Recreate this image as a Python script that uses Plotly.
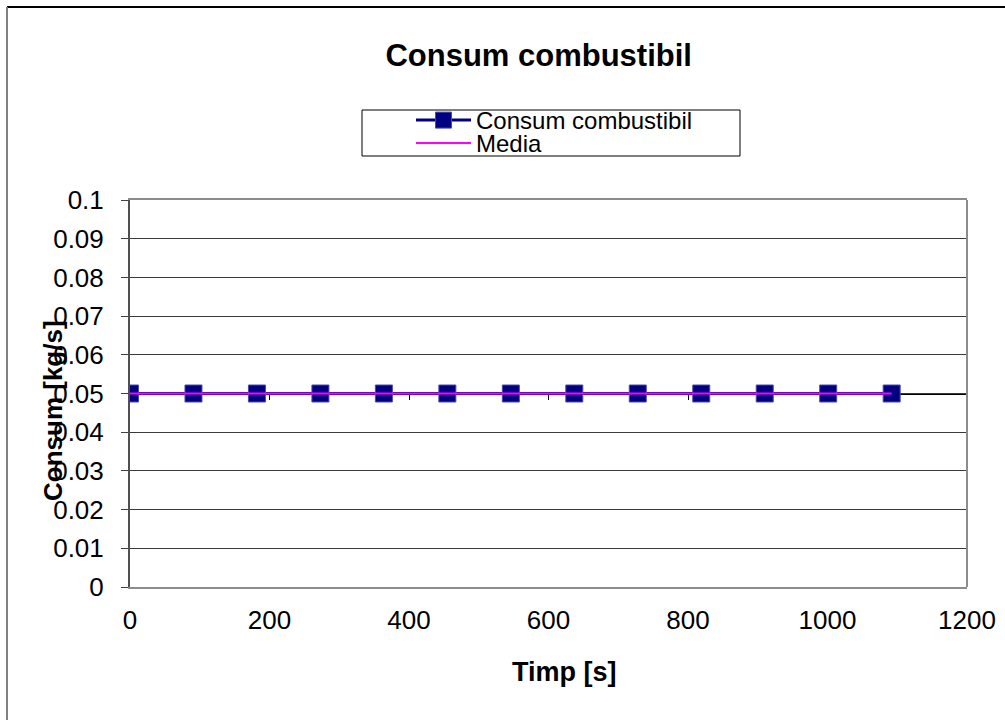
import plotly.graph_objects as go

# Fuel consumption samples over time
timp = [0, 91, 182, 273, 364, 455, 546, 637, 728, 819, 910, 1001, 1092]
consum = [0.05] * 13
media = [0.05] * 13

x_ticks = [0, 200, 400, 600, 800, 1000, 1200]
y_ticks = [0, 0.01, 0.02, 0.03, 0.04, 0.05, 0.06, 0.07, 0.08, 0.09, 0.1]

FONT = "Liberation Sans, Arial, sans-serif"

fig = go.Figure()
fig.add_trace(go.Scatter(
    x=timp, y=consum, name="Consum combustibil", mode="lines+markers",
    line=dict(color="#000080", width=3),
    marker=dict(symbol="square", size=17, color="#000080",
                line=dict(color="#4a4ab0", width=1)),
    legend="legend",
))
fig.add_trace(go.Scatter(
    x=timp, y=media, name="Media", mode="lines", xaxis="x2",
    line=dict(color="#ff00ff", width=2),
    legend="legend2",
))

L, R, T, B = 130, 38, 200, 133
W, H = 1005, 720
pw, ph = W - L - R, H - T - B


def px_x(p):
    return (p - L) / pw


def px_y(p):
    return (H - B - p) / ph


legend_style = dict(xanchor="left", yanchor="middle",
                    bgcolor="rgba(0,0,0,0)", borderwidth=0,
                    font=dict(size=24, family=FONT), itemwidth=55)

fig.update_layout(
    width=W, height=H,
    margin=dict(l=L, r=R, t=T, b=B, autoexpand=False),
    paper_bgcolor="white", plot_bgcolor="white",
    font=dict(family=FONT, size=26, color="black"),
    title=dict(text="<b>Consum combustibil</b>", x=0.536, xanchor="center",
               y=1 - 55 / H, yanchor="middle",
               font=dict(size=31, family=FONT, color="black")),
    showlegend=True,
    legend=dict(x=px_x(411), y=px_y(120.5), **legend_style),
    legend2=dict(x=px_x(411), y=px_y(143.5), **legend_style),
    xaxis=dict(range=[0, 1200], tickvals=x_ticks, ticks="",
               showgrid=False, zeroline=False, showline=True,
               linecolor="#8c8c8c", linewidth=2, mirror=True,
               ticklabelstandoff=9, tickfont=dict(size=26)),
    xaxis2=dict(overlaying="x", matches="x", anchor="free", position=0.5,
                side="bottom", range=[0, 1200], tickvals=x_ticks,
                ticks="outside", ticklen=5, tickcolor="black", tickwidth=1,
                showline=True, linecolor="black", linewidth=1,
                showticklabels=False, showgrid=False, zeroline=False,
                layer="below traces"),
    yaxis=dict(range=[0, 0.1], tickvals=y_ticks,
               ticktext=[("%g" % v) for v in y_ticks],
               ticks="outside", ticklen=7, tickcolor="#404040", tickwidth=1,
               showgrid=True, gridcolor="#3a3a3a", gridwidth=1,
               zeroline=False, showline=True, linecolor="#505050",
               linewidth=2, ticklabelstandoff=12, tickfont=dict(size=26)),
)

# Axis titles
fig.add_annotation(text="<b>Timp [s]</b>", xref="paper", yref="paper",
                   x=px_x(564), y=px_y(672), showarrow=False,
                   xanchor="center", yanchor="middle",
                   font=dict(size=27, family=FONT, color="black"))
fig.add_annotation(text="<b>Consum [kg/s]</b>", xref="paper", yref="paper",
                   x=px_x(53), y=px_y(411), showarrow=False, textangle=-90,
                   xanchor="center", yanchor="middle",
                   font=dict(size=26, family=FONT, color="black"))

# Plot area right border, legend frame and chart frame
fig.add_shape(type="line", xref="paper", yref="paper", x0=1, x1=1, y0=0, y1=1,
              line=dict(color="#8c8c8c", width=2))
fig.add_shape(type="rect", xref="paper", yref="paper",
              x0=px_x(362), x1=px_x(740), y0=px_y(110), y1=px_y(156),
              line=dict(color="black", width=1))
fig.add_shape(type="line", xref="paper", yref="paper",
              x0=px_x(7), x1=px_x(1006), y0=px_y(7), y1=px_y(7),
              line=dict(color="black", width=2))
fig.add_shape(type="line", xref="paper", yref="paper",
              x0=px_x(7), x1=px_x(7), y0=px_y(7), y1=px_y(721),
              line=dict(color="#808080", width=2))

fig.write_html("out.html")
